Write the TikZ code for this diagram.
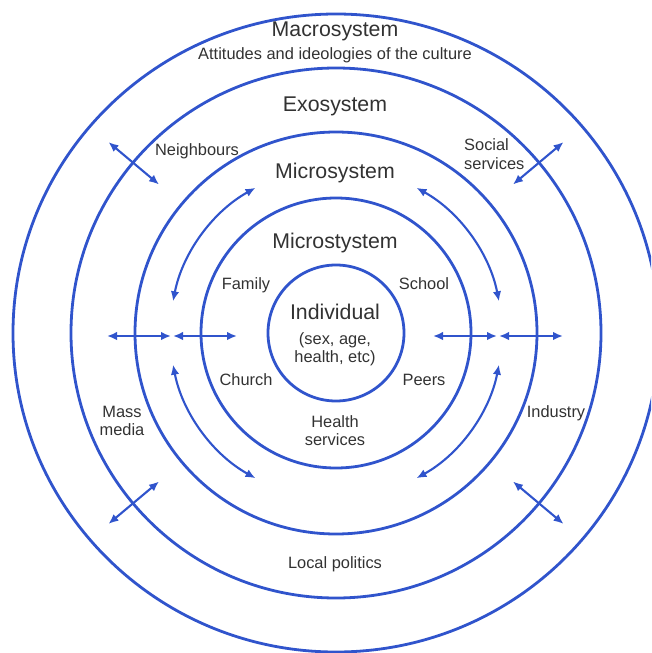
\documentclass[tikz,border=0pt]{standalone}
\usepackage{fontspec}
\setmainfont{Liberation Sans}
\usetikzlibrary{arrows.meta,calc}
\definecolor{ringblue}{RGB}{48,84,204}
\definecolor{labelgray}{RGB}{50,50,50}
\begin{document}
\begin{tikzpicture}[x=1pt,y=1pt,
  ring/.style={draw=ringblue,line width=2.8pt},
  arr/.style={draw=ringblue,line width=2.1pt,{Latex[length=10pt,width=8.5pt]}-{Latex[length=10pt,width=8.5pt]}},
  bigtext/.style={text=labelgray,font=\fontsize{21.3}{25}\selectfont,inner sep=0pt,anchor=base},
  smalltext/.style={text=labelgray,font=\fontsize{16.4}{19}\selectfont,inner sep=0pt,anchor=base}]
\useasboundingbox (0,0) rectangle (651,-653);
\clip (0,0) rectangle (651,-653);
\coordinate (C) at (336,-333);
% rings
\draw[ring] (C) ellipse [x radius=323, y radius=319];
\draw[ring] (C) circle [radius=265];
\draw[ring] (C) circle [radius=201];
\draw[ring] (C) circle [radius=135];
\draw[ring] (C) circle [radius=68];
% horizontal arrows
\coordinate (hl1) at (107,-336); \coordinate (hl2) at (171,-336);
\coordinate (hl3) at (173,-336); \coordinate (hl4) at (237,-336);
\coordinate (hr1) at (433,-336); \coordinate (hr2) at (497,-336);
\coordinate (hr3) at (499,-336); \coordinate (hr4) at (563,-336);
\draw[arr] (hl1) -- (hl2);
\draw[arr] (hl3) -- (hl4);
\draw[arr] (hr1) -- (hr2);
\draw[arr] (hr3) -- (hr4);
% diagonal arrows
\foreach \a/\n in {40/ne,140/nw,220/sw,320/se}{
  \coordinate (\n i) at ($(C)+(\a:231)$);
  \coordinate (\n o) at ($(C)+(\a:297)$);
  \draw[arr] (\n i) -- (\n o);
}
% curved arrows
\foreach \s in {11,119,191,299}{
  \draw[arr] ($(C)+(\s:166)$) arc [start angle=\s, end angle=\s+50, radius=166];
}
% labels
\node[bigtext] (macro) at (335,-36) {Macrosystem};
\node[smalltext] (attit) at (335,-59) {Attitudes and ideologies of the culture};
\node[bigtext] (exo) at (335,-111) {Exosystem};
\node[smalltext] (neigh) at (197,-155) {Neighbours};
\node[smalltext,anchor=base west] (social1) at (464,-150.5) {Social};
\node[smalltext,anchor=base west] (social2) at (464,-169) {services};
\node[bigtext] (micro) at (335,-178.5) {Microsystem};
\node[bigtext] (microst) at (335,-248) {Microstystem};
\node[smalltext] (family) at (246,-289) {Family};
\node[smalltext] (school) at (424,-289) {School};
\node[bigtext] (indiv) at (335,-319) {Individual};
\node[smalltext] (indiv1) at (335,-344.5) {(sex, age,};
\node[smalltext] (indiv2) at (335,-362.5) {health, etc)};
\node[smalltext] (church) at (246,-385) {Church};
\node[smalltext] (peers) at (424,-385) {Peers};
\node[smalltext] (mass1) at (122,-417) {Mass};
\node[smalltext] (mass2) at (122,-435) {media};
\node[smalltext] (industry) at (556,-417) {Industry};
\node[smalltext] (health1) at (335,-427.5) {Health};
\node[smalltext] (health2) at (335,-445) {services};
\node[smalltext] (local) at (335,-568) {Local politics};
\end{tikzpicture}
\end{document}
